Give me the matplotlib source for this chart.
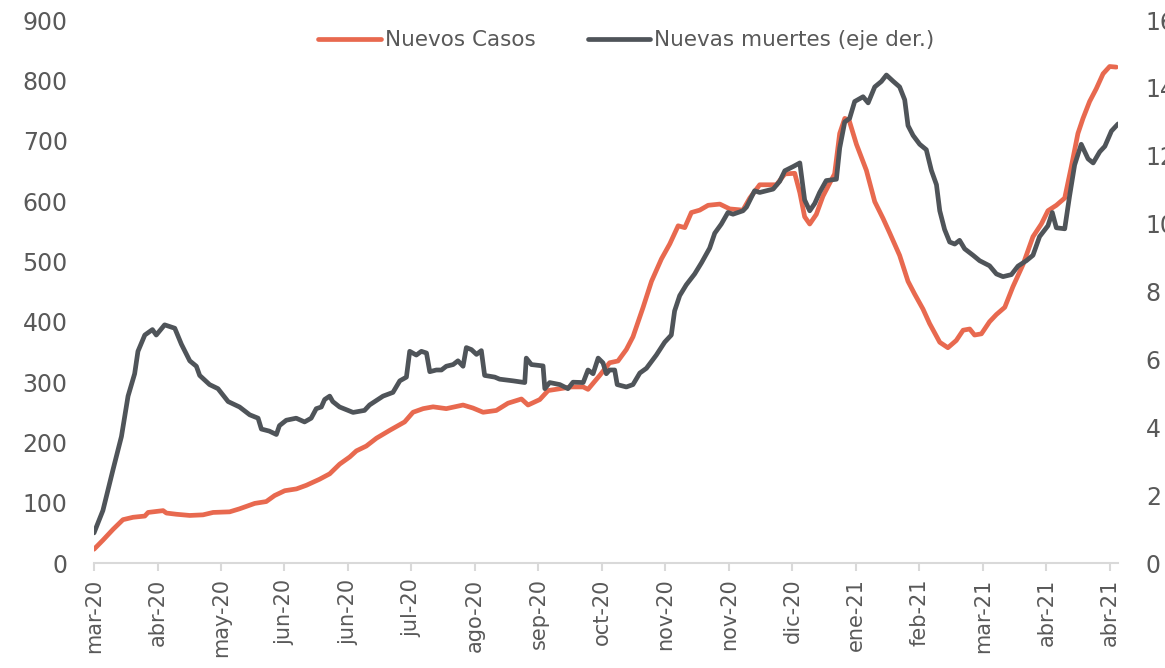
import pandas as pd
import matplotlib.pyplot as plt
from matplotlib.ticker import FuncFormatter
import matplotlib.dates as mdates

plt.rcParams['font.family'] = ['DejaVu Sans']

# Días desde el 22-mar-2020 y valores (miles)
inicio = pd.Timestamp('2020-03-22')

dias_casos = [0, 3.5, 7.5, 11.4, 15.4, 20, 21.3, 27.2, 28.5, 32.4, 37.7, 42.9, 46.9, 53.4,
              57.3, 63.3, 67.8, 71.1, 75.1, 79.7, 83.6, 88.8, 92.8, 96.7, 100.7, 103.3,
              107.2, 111.2, 116.4, 122.3, 125.6, 129.6, 133.5, 138.7, 145.3, 149.2, 153.2,
              158.4, 163, 168.3, 170.9, 175.5, 178.8, 183.4, 188, 192.6, 194.5, 199.1, 203,
              206.3, 209.6, 212.2, 216.2, 219.5, 223.4, 226.7, 230, 232.6, 235.2, 238.5,
              241.8, 246.4, 250.3, 255.5, 258.2, 262.1, 268.7, 272, 275.9, 277.9, 279.8,
              281.8, 284.4, 287, 289.7, 291.6, 293.6, 295.6, 297.3, 300.2, 304.1, 307.4,
              310.7, 313.3, 317.2, 320.5, 323.1, 326.4, 329, 333, 336.2, 339.5, 342.2,
              344.8, 346.7, 349.4, 352.6, 355.3, 358.6, 361.8, 365.8, 369.7, 373, 375.6,
              378.9, 382.2, 384.8, 387.4, 389.4, 392, 394.6, 397.3, 399.9, 402.5]
casos = [23, 38, 56, 72, 76, 78, 84, 87, 83, 81, 79, 80, 84, 85,
         90, 99, 102, 112, 120, 123, 129, 139, 148, 164, 176, 186,
         194, 207, 220, 234, 250, 256, 259, 256, 262, 257, 250,
         253, 265, 272, 262, 271, 286, 289, 292, 292, 288, 311, 332,
         335, 354, 375, 424, 467, 504, 529, 559, 556, 581, 585,
         593, 595, 587, 585, 605, 627, 627, 645, 646, 614, 574,
         562, 578, 608, 630, 645, 712, 737, 734, 694, 651, 599,
         571, 547, 510, 467, 446, 421, 397, 366, 357, 369, 386,
         388, 378, 380, 400, 412, 424, 458, 495, 541, 562, 584,
         593, 605, 657, 712, 737, 765, 786, 811, 823, 822]

dias_muertes = [0, 3.5, 7.5, 10.8, 13.4, 16, 17.3, 20, 23, 24.5, 27.8, 31.8, 34.4, 37.7,
                40.3, 41.6, 45.5, 48.8, 52.8, 57.3, 61.3, 64.6, 65.9, 69, 71.8, 73, 75.7,
                79.6, 82.9, 85.5, 87.5, 89.5, 90.8, 92.8, 94, 96.7, 102, 106.5, 108.5,
                113.8, 117.7, 120.4, 123, 124.3, 126.9, 128.9, 130.9, 132.2, 134.8, 136.8,
                138.7, 141.4, 143.3, 145.3, 146.6, 148.6, 150.6, 152.5, 153.8, 157.8,
                159.7, 165, 169.6, 170.2, 172.2, 176.8, 177.5, 179.4, 183.4, 186.6, 188.6,
                192.6, 194.5, 196.5, 198.5, 200.4, 201.7, 203, 205, 206, 209.6, 212.2,
                214.9, 217.5, 221.4, 224.7, 227.3, 228.6, 230.6, 233.2, 236.5, 239.2,
                242.4, 244.4, 247, 249.6, 251.6, 255.5, 256.9, 260.1, 262.1, 267.4, 270,
                272, 275.2, 277.9, 279.8, 281.8, 283.8, 285.7, 288.3, 292.3, 293.6, 295.6,
                297.5, 299.5, 302.8, 304.8, 307.4, 310, 312, 314.6, 317.2, 319.2, 320.5,
                322.5, 325.1, 327.7, 329.7, 331.7, 333, 334.9, 336.9, 338.9, 340.8, 342.8,
                346.1, 348.7, 352.6, 355.3, 357.9, 361.2, 363.8, 367.1, 369.7, 372.3,
                375.6, 377.3, 378.9, 382.2, 384.1, 386.1, 388.7, 391.4, 393.4, 396, 398,
                400.6, 403.2]
muertes = [0.89, 1.55, 2.76, 3.73, 4.92, 5.58, 6.24, 6.72, 6.88, 6.72, 7.02, 6.92, 6.45, 5.96,
           5.80, 5.53, 5.26, 5.14, 4.76, 4.60, 4.37, 4.27, 3.95, 3.89, 3.79, 4.05, 4.21,
           4.27, 4.16, 4.27, 4.55, 4.60, 4.82, 4.92, 4.76, 4.60, 4.44, 4.50, 4.66,
           4.92, 5.03, 5.37, 5.48, 6.24, 6.13, 6.24, 6.19, 5.64, 5.69, 5.69,
           5.80, 5.85, 5.96, 5.80, 6.35, 6.29, 6.15, 6.26, 5.53, 5.48,
           5.42, 5.37, 5.32, 6.04, 5.85, 5.81, 5.14, 5.32, 5.26, 5.14, 5.33,
           5.32, 5.69, 5.58, 6.04, 5.90, 5.58, 5.69, 5.69, 5.26, 5.19, 5.26,
           5.60, 5.74, 6.13, 6.51, 6.72, 7.43, 7.88, 8.20, 8.52, 8.85,
           9.28, 9.72, 9.99, 10.33, 10.28, 10.38, 10.49, 10.97, 10.92, 11.02, 11.25,
           11.56, 11.68, 11.79, 10.70, 10.38, 10.60, 10.92, 11.27, 11.31, 12.23, 13.00,
           13.10, 13.60, 13.74, 13.56, 14.03, 14.19, 14.38, 14.20, 14.03, 13.65, 12.89,
           12.60, 12.34, 12.18, 11.57, 11.15, 10.38, 9.83, 9.46, 9.40, 9.51, 9.26,
           9.07, 8.91, 8.76, 8.52, 8.44, 8.50, 8.75, 8.91, 9.07, 9.62,
           9.94, 10.33, 9.88, 9.85, 10.81, 11.73, 12.34, 11.91, 11.79, 12.12, 12.28,
           12.73, 12.94]

meses = ['ene', 'feb', 'mar', 'abr', 'may', 'jun', 'jul', 'ago', 'sep', 'oct', 'nov', 'dic']

fechas_casos = inicio + pd.to_timedelta(dias_casos, unit='D')
fechas_muertes = inicio + pd.to_timedelta(dias_muertes, unit='D')

rojo = '#E8694F'
gris = '#4F5459'
texto = '#595959'

fig = plt.figure(figsize=(11.65, 6.68), dpi=100)
ax = fig.add_axes([0.0807, 0.157, 0.879, 0.813])
ax2 = ax.twinx()

l1, = ax.plot(fechas_casos, casos, color=rojo, lw=3.4, solid_capstyle='round',
              label='Nuevos Casos', zorder=2)
l2, = ax2.plot(fechas_muertes, muertes, color=gris, lw=3.4, solid_capstyle='round',
               label='Nuevas muertes (eje der.)', zorder=3)

ax.set_ylim(0, 900)
ax.set_yticks(range(0, 901, 100))
ax2.set_ylim(0, 16)
ax2.set_yticks(range(0, 17, 2))

ticks = pd.date_range(inicio, periods=17, freq='25D')
ax.set_xticks(ticks)
ax.set_xlim(fechas_casos[0], fechas_muertes[-1])
ax.xaxis.set_major_formatter(FuncFormatter(
    lambda v, p: f"{meses[mdates.num2date(v).month - 1]}-{mdates.num2date(v).strftime('%y')}"))

for a in (ax, ax2):
    for s in a.spines.values():
        s.set_visible(False)
ax.spines['bottom'].set_visible(True)
ax.spines['bottom'].set_color('#D9D9D9')
ax.spines['bottom'].set_linewidth(1.5)

ax.tick_params(axis='x', colors='#D9D9D9', length=6, width=1.5, labelcolor=texto,
               labelsize=15, rotation=90, pad=5)
ax.tick_params(axis='y', length=0, labelcolor=texto, labelsize=17, pad=19)
ax2.tick_params(axis='y', length=0, labelcolor=texto, labelsize=17, pad=20)

ax.legend(handles=[l1, l2], loc='center', bbox_to_anchor=(0.52, 0.963), ncol=2,
          frameon=False, fontsize=15.5, labelcolor=texto, handlelength=2.9,
          handletextpad=0.2, columnspacing=2.4)

fig.savefig('out.png', dpi=100)
